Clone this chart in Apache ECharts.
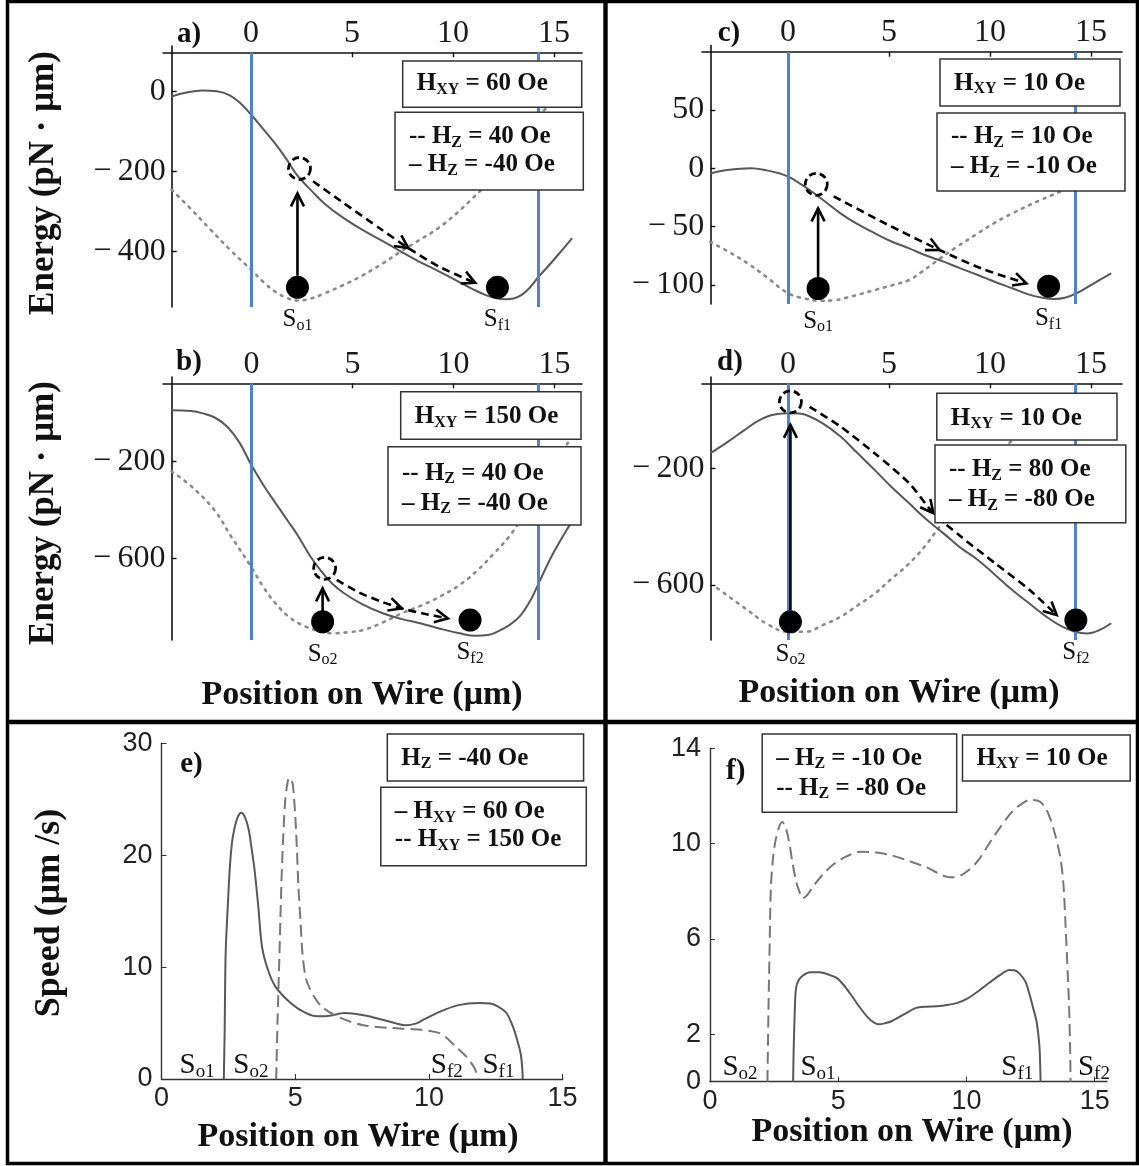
<!DOCTYPE html>
<html><head><meta charset="utf-8">
<script src="https://cdn.jsdelivr.net/npm/echarts@6/dist/echarts.min.js"></script>
<style>html,body{margin:0;padding:0;background:#fff}#c{width:1139px;height:1166px}</style>
</head><body><div id="c"></div><script>
// ---------------- DATA ----------------
const topTicks = [0, 5, 10, 15];
const aTicksY = [0, -200, -400];
const bTicksY = [-200, -600];
const cTicksY = [50, 0, -50, -100];
const dTicksY = [-200, -600];
const eTicksX = [0, 5, 10, 15];
const eTicksY = [0, 10, 20, 30];
const fTicksX = [0, 5, 10, 15];
const fTicksY = [0, 2, 6, 10, 14];
const wireEdges = [0, 14.2];

// panel a  (H_XY = 60 Oe)
const aSolid = [[-3.93,-12],[-3.2,-2],[-2.4,3],[-1.7,1],[-1.1,-8],[-0.5,-30],[0,-57],[0.6,-93],[1.2,-130],[1.8,-172],[2.3,-210],[3.0,-248],[3.6,-278],[4.5,-313],[5.5,-345],[6.5,-373],[7.4,-399],[8.3,-424],[9.3,-449],[10.2,-473],[11.0,-494],[11.6,-508],[12.1,-516],[12.6,-519],[13.0,-517],[13.4,-508],[13.8,-490],[14.2,-465],[14.7,-437],[15.3,-402],[15.9,-366]];
const aDotted = [[-3.93,-245],[-3,-292],[-2,-345],[-1,-397],[0,-445],[0.6,-475],[1.2,-500],[1.8,-516],[2.3,-522],[2.9,-518],[3.6,-505],[4.5,-485],[5.5,-460],[6.5,-430],[7.4,-400],[8.3,-372],[9.3,-340],[10.2,-303],[11.0,-265],[11.8,-225],[12.6,-175],[13.4,-120],[14.0,-80],[14.5,-47],[15.1,-22],[15.8,-5],[16.4,2]];
const aDomains = [{value:[2.3,-489], name:'o1'}, {value:[12.2,-489], name:'f1'}];
const aLift = [[2.4,-192]];
const aRise = [[2.3,-460],[2.3,-254]];
const aGlide = [[3.07,-224],[4.58,-278],[6.47,-345],[7.79,-391],[9.3,-437],[11.1,-478]];

// panel b  (H_XY = 150 Oe)
const bSolid = [[-3.96,13],[-3.0,10],[-2.4,0],[-1.8,-18],[-1.2,-55],[-0.6,-120],[0,-215],[0.6,-298],[1.2,-372],[1.8,-445],[2.33,-510],[2.9,-590],[3.47,-655],[4.0,-705],[4.6,-745],[5.5,-790],[6.5,-827],[7.4,-850],[8.4,-869],[9.3,-890],[10.3,-910],[11.1,-920],[11.7,-917],[12.2,-902],[12.8,-874],[13.3,-838],[13.8,-775],[14.26,-695],[14.8,-600],[15.3,-525],[15.8,-455],[16.3,-385]];
const bDotted = [[-3.96,-240],[-3.0,-300],[-1.84,-400],[-1.0,-510],[-0.13,-620],[0.6,-720],[1.19,-786],[1.9,-845],[2.7,-883],[3.4,-902],[4.03,-910],[4.8,-905],[5.55,-896],[6.5,-865],[7.44,-827],[8.4,-795],[9.33,-758],[10.3,-710],[11.2,-648],[12.0,-580],[12.75,-510],[13.5,-420],[14.26,-330],[15.0,-225],[15.6,-130],[16.3,-55]];
const bDomains = [{value:[3.52,-862], name:'o2'}, {value:[10.82,-855], name:'f2'}];
const bLift = [[3.62,-641]];
const bRise = [[3.52,-818],[3.52,-724]];
const bGlide = [[4.22,-689],[5.3,-740],[6.4,-778],[7.44,-807],[8.5,-828],[9.72,-848]];

// panel c  (H_XY = 10 Oe, H_Z = ±10 Oe)
const cSolid = [[-3.85,-4.5],[-3.0,-1.5],[-1.83,0],[-1.0,-2],[-0.4,-4.5],[0,-7],[0.5,-12],[1.07,-18.6],[1.8,-28],[2.6,-38.6],[3.4,-47.5],[4.3,-55.7],[5.1,-62.5],[6.0,-68.6],[6.8,-74.5],[7.7,-80],[8.5,-85.5],[9.4,-91.4],[10.2,-97],[11.1,-102.8],[11.9,-108],[12.6,-111],[13.2,-112],[13.7,-111],[14.3,-107],[15.1,-99],[16.0,-90]];
const cDotted = [[-3.85,-63],[-3.0,-71],[-2.0,-81.4],[-1.0,-94],[0,-107],[0.8,-111.5],[1.6,-113.5],[2.3,-113],[3.2,-109.5],[4.3,-104.3],[5.2,-100],[6.0,-95.7],[6.6,-89],[7.2,-81.4],[8.3,-68],[9.4,-55.7],[10.2,-47],[11.1,-38.6],[12.4,-28],[13.66,-18.6],[14.6,-11],[15.5,-6],[16.4,-3]];
const cDomains = [{value:[1.49,-103], name:'o1'}, {value:[12.9,-101], name:'f1'}];
const cLift = [[1.4,-13.7]];
const cRise = [[1.49,-93],[1.49,-34.3]];
const cGlide = [[2.26,-24],[4.9,-48],[7.5,-70],[9.6,-86],[11.8,-98.6]];

// panel d  (H_XY = 10 Oe, H_Z = ±80 Oe)
const dSolid = [[-3.84,-148],[-3.0,-110],[-2.16,-69],[-1.5,-38],[-0.8,-17],[0,-11],[0.5,-12],[0.9,-17],[1.7,-45],[2.6,-91],[3.4,-145],[4.3,-206],[5.1,-262],[6.0,-320],[6.8,-372],[7.7,-423],[8.5,-470],[9.4,-514],[10.2,-562],[11.1,-617],[12.0,-666],[12.8,-709],[13.5,-740],[14.2,-760],[14.8,-766],[15.4,-755],[16.0,-731]];
const dDotted = [[-3.5,-611],[-2.0,-686],[-1.0,-735],[0,-760],[0.9,-760],[1.7,-738],[2.6,-709],[3.4,-672],[4.3,-629],[5.1,-580],[6.0,-526],[6.8,-465],[7.5,-400],[8.3,-330],[9.2,-250],[10.2,-170],[11.0,-110],[11.8,-60],[12.6,-25],[13.5,-2],[14.3,5],[15.2,2],[16.0,-8]];
const dDomains = [{value:[0.12,-726], name:'o2'}, {value:[14.25,-720], name:'f2'}];
const dLift = [[0.12,28]];
const dRise = [[0.12,-687],[0.12,-51]];
const dGlide = [[1.07,11],[2.6,-57],[4.3,-149],[6.0,-251],[7.2,-354],[8.56,-434],[10.26,-526],[11.96,-617],[13.3,-703]];

// panel e  (speed, H_Z = -40 Oe)
const eSolid = [[2.33,0],[2.36,4],[2.4,11.3],[2.48,15.5],[2.55,18.7],[2.63,21],[2.72,22.3],[2.85,23.4],[2.98,23.8],[3.12,23.4],[3.26,22.3],[3.37,20.6],[3.48,18.7],[3.62,15.4],[3.76,11.8],[3.98,9.76],[4.26,8.26],[4.84,6.78],[5.41,5.88],[5.84,5.6],[6.3,5.65],[6.84,5.9],[7.56,5.7],[8.27,5.3],[8.8,4.95],[9.13,4.8],[9.5,4.95],[9.8,5.3],[10.4,6.0],[11.1,6.6],[11.85,6.8],[12.3,6.75],[12.57,6.5],[12.9,5.9],[13.14,4.7],[13.3,3.5],[13.43,2.3],[13.49,1],[13.51,0]];
const eDashed = [[4.29,0],[4.34,5.3],[4.41,11],[4.48,17.2],[4.55,21.5],[4.62,24.7],[4.7,26.3],[4.77,26.9],[4.84,26.8],[4.91,26.3],[4.96,25],[5.01,23.2],[5.07,20.2],[5.12,17.2],[5.2,14],[5.27,11.3],[5.41,8.9],[5.7,7.4],[5.98,6.5],[6.56,5.6],[7.56,4.8],[8.99,4.5],[9.7,4.4],[10.4,4.1],[10.7,3.6],[11.0,2.9],[11.4,2.0],[11.7,1.0],[11.85,0]];
const eMarks = [{value:[1.33,1.2], name:'o1'}, {value:[3.34,1.2], name:'o2'}, {value:[10.67,1.2], name:'f2'}, {value:[12.6,1.2], name:'f1'}];

// panel f  (speed, H_XY = 10 Oe)
const fSolid = [[3.24,0],[3.26,1.2],[3.3,2.8],[3.35,3.9],[3.45,4.25],[3.61,4.45],[3.9,4.6],[4.28,4.6],[4.62,4.5],[4.95,4.35],[5.22,4.05],[5.49,3.66],[5.82,3.15],[6.16,2.69],[6.4,2.48],[6.57,2.41],[6.8,2.45],[7.1,2.55],[7.6,2.85],[8.04,3.1],[8.44,3.15],[8.84,3.17],[9.25,3.22],[9.65,3.31],[10.05,3.5],[10.45,3.79],[10.8,4.08],[11.12,4.34],[11.4,4.55],[11.66,4.69],[11.86,4.68],[12.06,4.55],[12.3,4.2],[12.46,3.66],[12.6,3.1],[12.73,2.55],[12.82,1.8],[12.86,1.2],[12.89,0]];
const fDashed = [[2.24,0],[2.28,3],[2.33,6],[2.37,8.07],[2.45,9.3],[2.55,10.1],[2.68,10.65],[2.81,10.9],[2.94,10.7],[3.08,10.1],[3.2,9.3],[3.35,8.45],[3.48,8.0],[3.61,7.7],[3.8,7.85],[4.02,8.2],[4.4,8.7],[4.82,9.13],[5.3,9.45],[5.89,9.66],[6.5,9.62],[7.1,9.5],[7.8,9.25],[8.44,9.0],[9.24,8.6],[9.5,8.58],[9.78,8.66],[10.1,8.9],[10.45,9.28],[11.12,10.38],[11.79,11.35],[12.2,11.7],[12.46,11.83],[12.86,11.76],[13.1,11.45],[13.26,11.07],[13.45,10.4],[13.66,9.42],[13.78,8.3],[13.86,6.66],[13.95,4.5],[14.0,3.2],[14.04,1.5],[14.06,0]];
const fMarks = [{value:[1.17,0.6], name:'o2'}, {value:[4.21,0.6], name:'o1'}, {value:[11.98,0.6], name:'f1'}, {value:[14.97,0.6], name:'f2'}];

// ---------------- LAYOUT / STYLE ----------------
const SERIF = '"Liberation Serif","Times New Roman",serif';
const SANS = '"Liberation Sans",Arial,sans-serif';
const INK = '#111';
const CURVE = '#585858';
const DOTS = '#8a8a8a';
const WIRE = '#4f82c8';

const lay = {
  a:{gl:163,gt:46,gw:419,gh:261,x0:251,xs:20.2,y0:91.7,ys:0.4,ax:171.7,ay:52.3},
  b:{gl:163,gt:377,gw:419,gh:263,x0:251.5,xs:20.2,y0:413.4,ys:0.2417,ax:171.5,ay:383.3},
  c:{gl:702,gt:45.5,gw:420,gh:258.5,x0:788,xs:20.2,y0:168.3,ys:1.167,ax:710.3,ay:51.7},
  d:{gl:702,gt:377,gw:420,gh:263,x0:788,xs:20.2,y0:410,ys:0.2917,ax:710.5,ay:383.3}
};

const grid = [], xAxis = [], yAxis = [], series = [], graphic = [];
const fmtMinus = v => (v < 0 ? '\u2212\u2009' + Math.abs(v) : String(v));

function arrow(idx, pts, heads, dashed) {
  return {
    type:'custom', xAxisIndex:idx, yAxisIndex:idx, coordinateSystem:'cartesian2d',
    silent:true, z:6, clip:false, data:[pts[0]],
    renderItem:(params, api) => {
      const p = pts.map(q => api.coord(q));
      const ch = [{type:'polyline', shape:{points:p, smooth:dashed ? 0.25 : 0},
        style:{stroke:'#000', lineWidth:2.6, fill:null, lineDash:dashed ? [8,5] : null}}];
      heads.forEach(i => {
        const t = p[i], pr = p[i-1];
        const dx = t[0]-pr[0], dy = t[1]-pr[1], L = Math.hypot(dx, dy);
        const ux = dx/L, uy = dy/L, len = 13, w = 6.5;
        const bx = t[0]-ux*len, by = t[1]-uy*len;
        ch.push({type:'polyline', shape:{points:[[bx-uy*w, by+ux*w], t, [bx+uy*w, by-ux*w]]},
          style:{stroke:'#000', lineWidth:2.6, fill:null}});
      });
      return {type:'group', children:ch};
    }
  };
}

const sLabel = {
  show:true, position:'bottom', distance:7,
  formatter:p => '{m|S}{u|' + p.name + '}',
  rich:{ m:{fontFamily:SERIF, fontSize:25, color:INK}, u:{fontFamily:SERIF, fontSize:16, color:INK, padding:[12,0,0,0]} }
};

function energyPanel(k, idx, yTicks, solid, dotted, domains, lift, rise, glide, riseHeads, glideHeads) {
  const g = lay[k];
  const xmin = (g.gl - g.x0)/g.xs, xmax = (g.gl + g.gw - g.x0)/g.xs;
  const ymax = (g.y0 - g.gt)/g.ys, ymin = (g.y0 - g.gt - g.gh)/g.ys;
  const cross = (g.y0 - g.ay)/g.ys;
  grid.push({left:g.gl, top:g.gt, width:g.gw, height:g.gh, outerBoundsMode:'none'});
  xAxis.push({type:'value', gridIndex:idx, position:'top', min:xmin, max:xmax, offset:-(g.ay - g.gt),
    axisLine:{onZero:false, lineStyle:{color:INK, width:1.6}},
    axisTick:{inside:true, length:5, customValues:topTicks, lineStyle:{color:INK, width:1.4}},
    axisLabel:{customValues:topTicks, fontFamily:SERIF, fontSize:32, color:'#1a1a1a', margin:3},
    splitLine:{show:false}});
  yAxis.push({type:'value', gridIndex:idx, min:ymin, max:ymax, offset:-(g.ax - g.gl),
    axisLine:{onZero:false, lineStyle:{color:INK, width:1.6}},
    axisTick:{inside:true, length:5, customValues:yTicks, lineStyle:{color:INK, width:1.4}},
    axisLabel:{customValues:yTicks, fontFamily:SERIF, fontSize:32, color:'#1a1a1a', margin:6, formatter:fmtMinus},
    splitLine:{show:false}});
  series.push({type:'line', xAxisIndex:idx, yAxisIndex:idx, data:dotted, smooth:0.4, showSymbol:false, silent:true, z:2,
    lineStyle:{color:DOTS, width:2.6, type:[2,6], cap:'round'}});
  series.push({type:'line', xAxisIndex:idx, yAxisIndex:idx, data:solid, smooth:0.4, showSymbol:false, silent:true, z:3,
    lineStyle:{color:CURVE, width:2}});
  series.push({type:'line', xAxisIndex:idx, yAxisIndex:idx, data:[], silent:true, z:1,
    markLine:{silent:true, symbol:['none','none'], label:{show:false}, animation:false,
      lineStyle:{color:WIRE, width:3, type:'solid'},
      data:wireEdges.map(w => [{coord:[w, cross]}, {coord:[w, ymin]}])}});
  series.push(arrow(idx, rise, riseHeads, false));
  series.push(arrow(idx, glide, glideHeads, true));
  series.push({type:'scatter', xAxisIndex:idx, yAxisIndex:idx, data:domains, symbolSize:23, silent:true, z:7,
    itemStyle:{color:'#000', opacity:1}, label:sLabel});
  series.push({type:'scatter', xAxisIndex:idx, yAxisIndex:idx, data:lift, symbolSize:22, silent:true, z:7,
    itemStyle:{color:'rgba(0,0,0,0)', opacity:1, borderColor:'#000', borderWidth:2.8, borderType:[7,4]}});
}

energyPanel('a', 0, aTicksY, aSolid, aDotted, aDomains, aLift, aRise, aGlide, [1], [3, 5]);
energyPanel('b', 1, bTicksY, bSolid, bDotted, bDomains, bLift, bRise, bGlide, [1], [3, 5]);
energyPanel('c', 2, cTicksY, cSolid, cDotted, cDomains, cLift, cRise, cGlide, [1], [2, 4]);
energyPanel('d', 3, dTicksY, dSolid, dDotted, dDomains, dLift, dRise, dGlide, [1], [4, 8]);

function speedPanel(idx, box, xmax, ymax, xt, yt, solid, dashed, marks) {
  grid.push({left:box[0], top:box[1], width:box[2], height:box[3], outerBoundsMode:'none'});
  xAxis.push({type:'value', gridIndex:idx, min:0, max:xmax,
    axisLine:{onZero:false, lineStyle:{color:'#333', width:1.4}},
    axisTick:{inside:true, length:5, customValues:xt, lineStyle:{color:'#333'}},
    axisLabel:{customValues:xt, fontFamily:SANS, fontSize:27, color:'#222', margin:6},
    splitLine:{show:false}});
  yAxis.push({type:'value', gridIndex:idx, min:0, max:ymax,
    axisLine:{onZero:false, lineStyle:{color:'#333', width:1.4}},
    axisTick:{inside:true, length:5, customValues:yt, lineStyle:{color:'#333'}},
    axisLabel:{customValues:yt, fontFamily:SANS, fontSize:27, color:'#222', margin:9},
    splitLine:{show:false}});
  series.push({type:'line', xAxisIndex:idx, yAxisIndex:idx, data:solid, smooth:0.3, showSymbol:false, silent:true,
    lineStyle:{color:CURVE, width:2}});
  series.push({type:'line', xAxisIndex:idx, yAxisIndex:idx, data:dashed, smooth:0.3, showSymbol:false, silent:true,
    lineStyle:{color:'#777', width:2, type:[12,6]}});
  series.push({type:'scatter', xAxisIndex:idx, yAxisIndex:idx, data:marks, symbolSize:1, silent:true,
    itemStyle:{color:'rgba(0,0,0,0)', opacity:1},
    label:{show:true, position:'inside', formatter:p => '{m|S}{u|' + p.name + '}',
      rich:{ m:{fontFamily:SERIF, fontSize:29, color:INK}, u:{fontFamily:SERIF, fontSize:19, color:INK, padding:[13,0,0,0]} }}});
}
speedPanel(4, [161.5, 743.3, 401.1, 335.7], 15, 30, eTicksX, eTicksY, eSolid, eDashed, eMarks);
speedPanel(5, [710, 748.3, 397, 333.4], 15.48, 14, fTicksX, fTicksY, fSolid, fDashed, fMarks);

// ---------------- GRAPHIC (frame, boxes, titles) ----------------
const RICH = {
  b:{fontFamily:SERIF, fontWeight:'bold', fontSize:25, fill:INK},
  s:{fontFamily:SERIF, fontWeight:'bold', fontSize:16, fill:INK, padding:[12,0,0,0]}
};
function txt(x, y, text, size, opts) {
  return Object.assign({type:'text', x:x, y:y, z:120,
    style:{text:text, fontFamily:SERIF, fontWeight:'bold', fontSize:size, fill:INK, align:'center', verticalAlign:'middle'}}, opts || {});
}
function box(x, y, w, h, lines) {
  graphic.push({type:'rect', z:110, shape:{x:x, y:y, width:w, height:h}, style:{fill:'#fff', stroke:'#333', lineWidth:1.5}});
  lines.forEach(l => graphic.push({type:'text', z:111, x:x + 14, y:l[0],
    style:{text:l[1], rich:RICH, align:'left', verticalAlign:'middle'}}));
}
const HXY = v => '{b|H}{s|XY}{b| = ' + v + ' Oe}';
const HZ = (pre, v) => '{b|' + pre + ' H}{s|Z}{b| = ' + v + ' Oe}';
const HXYp = (pre, v) => '{b|' + pre + ' H}{s|XY}{b| = ' + v + ' Oe}';

box(402.7, 61, 179, 46.3, [[84, HXY(60)]]);
box(395, 112.3, 188.3, 77.7, [[136.7, HZ('--', 40)], [165, HZ('\u2013', -40)]]);
box(400.7, 391.7, 180.3, 47.6, [[416.7, HXY(150)]]);
box(388, 446.7, 193, 78.3, [[473.3, HZ('--', 40)], [503.3, HZ('\u2013', -40)]]);
box(940, 59, 180, 47, [[83.3, HXY(10)]]);
box(937, 113, 188, 78, [[136.7, HZ('--', 10)], [166.7, HZ('\u2013', -10)]]);
box(936.8, 393.3, 180.2, 46.7, [[418.3, HXY(10)]]);
box(935, 445, 190.8, 77.7, [[470, HZ('--', 80)], [500, HZ('\u2013', -80)]]);
box(387.3, 734, 196.3, 47, [[758.3, '{b|H}{s|Z}{b| = -40 Oe}']]);
box(380.8, 787.3, 205.5, 78.4, [[811.7, HXYp('\u2013', 60)], [840, HXYp('--', 150)]]);
box(762.2, 734, 194.5, 78.3, [[758.3, HZ('\u2013', -10)], [788.3, HZ('--', -80)]]);
box(962.5, 735, 167.7, 46, [[758.3, HXY(10)]]);

graphic.push(txt(189, 35, 'a)', 29), txt(189, 363, 'b)', 29), txt(729, 34, 'c)', 29), txt(730, 363, 'd)', 29),
  txt(191.5, 765, 'e)', 29), txt(735.7, 771.5, 'f)', 29));
graphic.push(txt(44, 183, 'Energy (pN \u00b7 \u03bcm)', 35, {rotation:Math.PI/2}),
  txt(44, 513, 'Energy (pN \u00b7 \u03bcm)', 35, {rotation:Math.PI/2}),
  txt(50, 913, 'Speed (\u03bcm /s)', 36, {rotation:Math.PI/2}));
graphic.push(txt(362, 695, 'Position on Wire (\u03bcm)', 34), txt(899, 693, 'Position on Wire (\u03bcm)', 34),
  txt(358, 1137, 'Position on Wire (\u03bcm)', 34), txt(912, 1132, 'Position on Wire (\u03bcm)', 34));
graphic.push({type:'rect', z:130, shape:{x:7.5, y:1.5, width:1130, height:1162}, style:{fill:null, stroke:'#000', lineWidth:3.5}});
graphic.push({type:'line', z:130, shape:{x1:605.5, y1:1.5, x2:605.5, y2:1163.5}, style:{stroke:'#000', lineWidth:4.4}});
graphic.push({type:'line', z:130, shape:{x1:7.5, y1:722, x2:1137.5, y2:722}, style:{stroke:'#000', lineWidth:4.3}});

const chart = echarts.init(document.getElementById('c'), null, {renderer:'canvas'});
chart.setOption({animation:false, backgroundColor:'#fff', grid, xAxis, yAxis, series, graphic});
</script></body></html>
